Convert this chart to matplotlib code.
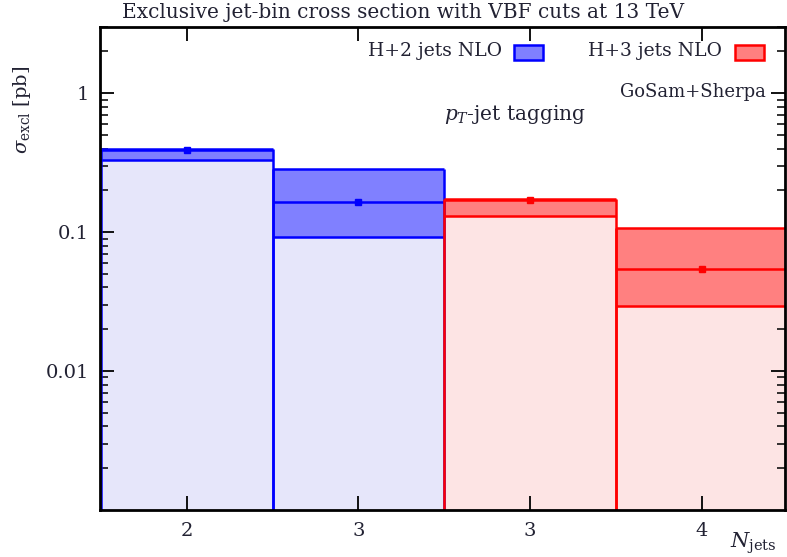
import matplotlib.pyplot as plt
from matplotlib.ticker import LogLocator, FixedLocator, NullFormatter, FixedFormatter
from matplotlib.patches import Rectangle

# bins in jet multiplicity
xpos = [1, 2, 3, 4]
xlabels = ["2", "3", "3", "4"]
central = [0.39, 0.165, 0.17, 0.054]
upper = [0.395, 0.285, 0.172, 0.108]
lower = [0.33, 0.092, 0.13, 0.0295]
series = ["H+2 jets NLO", "H+2 jets NLO", "H+3 jets NLO", "H+3 jets NLO"]

line_col = {"H+2 jets NLO": "#0000ff", "H+3 jets NLO": "#ff0000"}
band_col = {"H+2 jets NLO": "#8080ff", "H+3 jets NLO": "#ff8080"}
light_col = {"H+2 jets NLO": "#e6e6fa", "H+3 jets NLO": "#fde4e4"}

ymin, ymax = 0.001, 3.0
txt = "#222233"

plt.rcParams["font.family"] = ["DejaVu Serif"]
plt.rcParams["mathtext.fontset"] = "dejavuserif"
fig = plt.figure(figsize=(7.87, 5.57), dpi=100)
ax = fig.add_axes([0.127, 0.0844, 0.8705, 0.8671])
ax.set_yscale("log")
ax.set_xlim(0.495, 4.485)
ax.set_ylim(ymin, ymax)

for x, c, u, l, s in zip(xpos, central, upper, lower, series):
    lc = line_col[s]
    # light part below the band
    ax.bar(x, l - ymin, bottom=ymin, width=1.0, color=light_col[s], linewidth=0, zorder=1)
    # uncertainty band
    ax.bar(x, u - l, bottom=l, width=1.0, color=band_col[s], linewidth=0, zorder=2)
    ax.hlines([u, l, c], x - 0.5, x + 0.5, colors=lc, linewidth=1.8, zorder=3)
    ax.vlines([x - 0.5, x + 0.5], ymin, u, colors=lc, linewidth=1.8, zorder=3)
    ax.plot([x], [c], "s", color=lc, markersize=4, zorder=4)

# ticks
ax.xaxis.set_major_locator(FixedLocator(xpos))
ax.xaxis.set_major_formatter(FixedFormatter(xlabels))
ax.yaxis.set_major_locator(FixedLocator([0.01, 0.1, 1]))
ax.yaxis.set_major_formatter(FixedFormatter(["0.01", "0.1", "1"]))
ax.yaxis.set_minor_locator(LogLocator(base=10, subs=range(2, 10)))
ax.yaxis.set_minor_formatter(NullFormatter())
ax.tick_params(which="both", direction="in", top=True, right=True, labelsize=14, colors="#111111",
               labelcolor=txt)
ax.tick_params(which="major", length=10, width=1.4)
ax.tick_params(which="minor", length=5.5, width=1.2)
ax.tick_params(axis="x", pad=9)
ax.tick_params(axis="y", pad=8)
for sp in ax.spines.values():
    sp.set_linewidth(2.0)
    sp.set_zorder(5)

# texts
fig.text(403 / 787, 1 - 13 / 557, "Exclusive jet-bin cross section with VBF cuts at 13 TeV",
         ha="center", va="center", fontsize=14.5, color=txt)
fig.text(22 / 787, 1 - 110 / 557, r"$\sigma_{\rm excl}$ [pb]", rotation=90,
         ha="center", va="center", fontsize=14, color=txt)
fig.text(753 / 787, 1 - 543 / 557, r"$N_{\rm jets}$", ha="center", va="center",
         fontsize=15, color=txt)

# legend boxes
for name, xr, xb in [("H+2 jets NLO", 502, 514), ("H+3 jets NLO", 722, 735)]:
    fig.text(xr / 787, 1 - 51 / 557, name, ha="right", va="center", fontsize=13.5, color=txt)
    fig.patches.append(Rectangle((xb / 787, 1 - 60 / 557), 29 / 787, 15 / 557,
                                 transform=fig.transFigure, facecolor=band_col[name],
                                 edgecolor=line_col[name], linewidth=1.8))

fig.text(766 / 787, 1 - 92 / 557, "GoSam+Sherpa", ha="right", va="center", fontsize=13, color=txt)
fig.text(515 / 787, 1 - 114 / 557, r"$p_T$-jet tagging", ha="center", va="center",
         fontsize=14.5, color=txt)

fig.savefig("out.png", dpi=100)
